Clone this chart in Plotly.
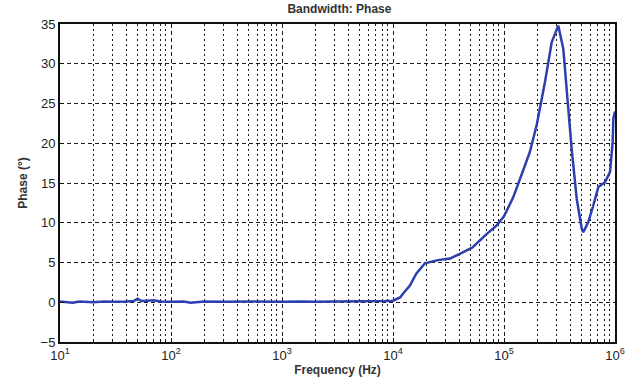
import plotly.graph_objects as go

freq_hz = [10, 12, 13, 15, 18, 20, 25, 30, 40, 46, 50, 54, 60, 70, 80, 100, 130, 150, 200, 300, 500,
           700, 1000, 1500, 2000, 3000, 5000, 7000, 8500, 10000, 11600, 12500, 14200, 16200, 19400,
           25400, 32600, 40000, 52000, 70000, 85000, 100000, 121000, 149000, 171000, 197000, 234000,
           269000, 308000, 342000, 367000, 407000, 452000, 501000, 518000, 575000, 638000, 708000,
           813000, 902000, 953000, 966000, 1000000]
phase_deg = [0.1, 0.0, -0.05, 0.1, 0.05, 0.0, 0.1, 0.05, 0.1, 0.15, 0.45, 0.15, 0.2, 0.25, 0.1,
             0.05, 0.1, -0.05, 0.1, 0.05, 0.1, 0.05, 0.05, 0.1, 0.05, 0.1, 0.1, 0.1, 0.15, 0.2,
             0.6, 1.2, 2.1, 3.6, 4.9, 5.3, 5.5, 6.1, 6.9, 8.6, 9.6, 10.8, 13.2, 16.6, 18.9, 22.3,
             27.7, 32.7, 34.8, 31.9, 26.5, 19.3, 13.0, 9.3, 8.8, 10.1, 12.2, 14.5, 15.1, 16.4, 20.2,
             23.1, 24.0]

x_tick_vals = [10, 100, 1000, 10000, 100000, 1000000]
x_tick_text = ["10<sup>1</sup>", "10<sup>2</sup>", "10<sup>3</sup>", "10<sup>4</sup>",
               "10<sup>5</sup>", "10<sup>6</sup>"]
y_tick_vals = [-5, 0, 5, 10, 15, 20, 25, 30, 35]

minor_vals = [m * d for d in [10, 100, 1000, 10000, 100000] for m in range(2, 10)]

fig = go.Figure()
fig.add_trace(go.Scatter(x=freq_hz, y=phase_deg, mode="lines",
                         line=dict(color="#2c3fae", width=2.5), showlegend=False))

font_family = "Liberation Sans, Arial, sans-serif"
grid_col = "#1a1a1a"
fig.update_layout(
    width=638, height=386,
    margin=dict(l=60, r=23, t=24, b=44, autoexpand=False),
    paper_bgcolor="white", plot_bgcolor="white",
    font=dict(family=font_family, size=13, color="#222"),
    title=dict(text="<b>Bandwidth: Phase</b>", x=0.532, xanchor="center", y=0.977, yanchor="middle",
               font=dict(size=12, color="#333")),
    xaxis=dict(type="log", range=[1, 6], tickvals=x_tick_vals, ticktext=x_tick_text,
               automargin=False,
               showline=True, linecolor="#111", linewidth=2, mirror=True,
               showgrid=True, gridcolor=grid_col, griddash="4px,3px", gridwidth=1,
               ticks="inside", ticklen=4, tickcolor="#111",
               minor=dict(tickvals=minor_vals, showgrid=True, gridcolor=grid_col,
                          griddash="2px,3px", gridwidth=1.3, ticks="inside", ticklen=2,
                          tickcolor="#111"),
               title=dict(text="<b>Frequency (Hz)</b>", standoff=4,
                          font=dict(size=12, color="#333")),
               zeroline=False, tickfont=dict(size=13)),
    yaxis=dict(range=[-5, 35], tickvals=y_tick_vals, automargin=False,
               showline=True, linecolor="#111", linewidth=2, mirror=True,
               showgrid=True, gridcolor=grid_col, griddash="4px,3px", gridwidth=1,
               ticks="inside", ticklen=4, tickcolor="#111",
               title=dict(text="<b>Phase (°)</b>", standoff=10, font=dict(size=12, color="#333")),
               zeroline=False, tickfont=dict(size=13)),
)

fig.write_html("out.html", config={"displayModeBar": False},
               post_script="document.body.style.margin='0';")
